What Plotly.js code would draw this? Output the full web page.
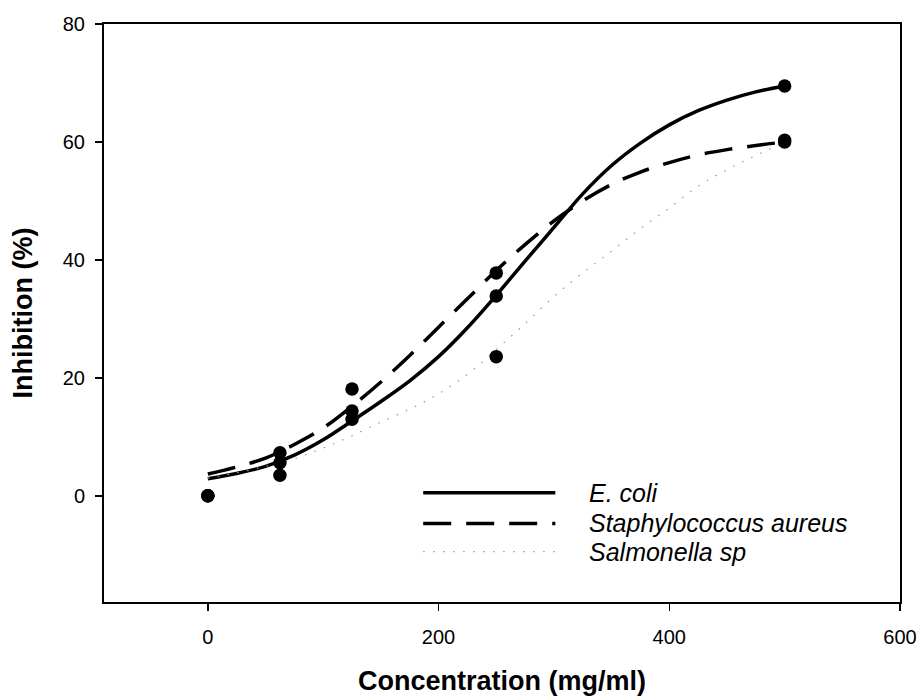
<!DOCTYPE html>
<html>
<head>
<meta charset="utf-8">
<script src="https://cdn.plot.ly/plotly-3.0.1.min.js"></script>
<style>html,body{margin:0;padding:0;background:#fff;}#chart{width:921px;height:698px;}</style>
</head>
<body>
<div id="chart"></div>
<script>
// Measured points
const conc = [0, 62.5, 125, 250, 500];
const ecoli = [0, 5.6, 13.0, 33.9, 69.5];
const saureus = [0, 7.3, 18.1, 37.8, 60.3];
const salmonella = [0, 3.5, 14.4, 23.6, 60.0];

// Fitted curves
const fitX = [0, 25, 50, 75, 100, 125, 150, 175, 200, 225, 250, 275, 300, 325, 350, 375, 400, 425, 450, 475, 500];
const ecoliFit = [2.9, 3.8, 5.0, 6.9, 9.5, 12.7, 16.0, 19.5, 23.6, 28.5, 34.0, 39.8, 45.5, 51.2, 56.0, 59.8, 62.9, 65.3, 67.1, 68.5, 69.5];
const saureusFit = [3.7, 4.9, 6.4, 8.7, 11.5, 15.2, 19.3, 23.8, 28.6, 33.4, 38.2, 42.6, 46.6, 50.0, 52.8, 54.9, 56.5, 57.8, 58.7, 59.4, 60.0];
const salmonellaFit = [3.0, 3.9, 5.0, 6.3, 8.1, 10.2, 12.5, 14.7, 17.3, 20.6, 24.8, 29.2, 33.8, 37.8, 41.5, 45.3, 48.8, 52.5, 55.3, 57.7, 60.0];

const seriesNames = ["E. coli", "Staphylococcus aureus", "Salmonella sp"];
const xTicks = [0, 200, 400, 600];
const yTicks = [0, 20, 40, 60, 80];

const FONT = "Liberation Sans, Arial, sans-serif";
const styles = [
  {color: "#000", width: 3.5, dash: "solid"},
  {color: "#000", width: 3.5, dash: "28px,15px"},
  {color: "#999", width: 1.2, dash: "1.5px,8.5px"}
];

const fits = [ecoliFit, saureusFit, salmonellaFit];
const pts = [ecoli, saureus, salmonella];
const traces = [];
fits.forEach((f, i) => {
  traces.push({x: fitX, y: f, type: "scatter", mode: "lines", name: seriesNames[i],
    line: {color: styles[i].color, width: styles[i].width, dash: styles[i].dash, shape: "spline", smoothing: 1},
    showlegend: false, hoverinfo: "skip"});
});
pts.forEach((p, i) => {
  traces.push({x: conc, y: p, type: "scatter", mode: "markers", name: seriesNames[i] + " data",
    marker: {color: "#000", size: 13.5}, showlegend: false});
});

// Legend drawn with shapes + annotations (paper coords)
const legX0 = 0.401, legX1 = 0.567, legTX = 0.607;
const legY = [0.189, 0.136, 0.087];
const shapes = [], annotations = [];
seriesNames.forEach((n, i) => {
  shapes.push({type: "line", xref: "paper", yref: "paper", x0: legX0, x1: legX1, y0: legY[i], y1: legY[i],
    line: {color: styles[i].color, width: styles[i].width, dash: styles[i].dash}});
  annotations.push({xref: "paper", yref: "paper", x: legTX, y: legY[i], xanchor: "left", yanchor: "middle",
    text: "<i>" + n + "</i>", showarrow: false, font: {family: FONT, size: 25, color: "#000"}});
});

const layout = {
  width: 921, height: 698,
  margin: {l: 104, r: 21, t: 24, b: 96},
  paper_bgcolor: "#fff", plot_bgcolor: "#fff",
  font: {family: FONT, color: "#000"},
  showlegend: false,
  xaxis: {
    range: [-90, 600], tickvals: xTicks, ticktext: xTicks.map(String),
    showgrid: false, zeroline: false, showline: true, linecolor: "#000", linewidth: 2, mirror: true,
    ticks: "outside", ticklen: 7, tickwidth: 1.5, tickcolor: "#000",
    tickfont: {family: FONT, size: 20, color: "#000"}, ticklabelstandoff: 9,
    title: {text: "<b>Concentration (mg/ml)</b>", font: {family: FONT, size: 27, color: "#000"}, standoff: 24}
  },
  yaxis: {
    range: [-18, 80], tickvals: yTicks, ticktext: yTicks.map(String),
    showgrid: false, zeroline: false, showline: true, linecolor: "#000", linewidth: 2, mirror: true,
    ticks: "outside", ticklen: 7, tickwidth: 1.5, tickcolor: "#000",
    tickfont: {family: FONT, size: 20, color: "#000"}, ticklabelstandoff: 6,
    title: {text: "<b>Inhibition (%)</b>", font: {family: FONT, size: 27, color: "#000"}, standoff: 22}
  },
  shapes: shapes,
  annotations: annotations
};

Plotly.newPlot("chart", traces, layout, {displayModeBar: false, staticPlot: true});
</script>
</body>
</html>
